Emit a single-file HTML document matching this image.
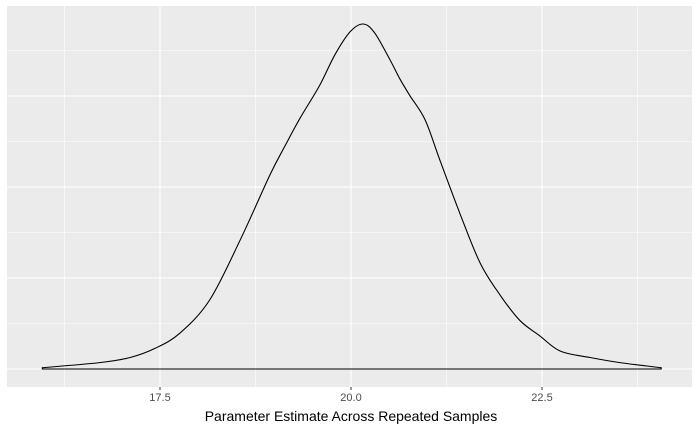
<!DOCTYPE html>
<html><head><meta charset="utf-8"><style>
body{margin:0;background:#fff;}
svg{display:block;font-family:"Liberation Sans",Arial,sans-serif;}
</style></head><body>
<svg id="chart" width="700" height="432"></svg>
<script>
const xVals=[15.96,16.71,17.11,17.43,17.76,18.15,18.55,18.94,19.14,19.33,19.59,19.79,19.99,20.16,20.31,20.51,20.64,20.77,20.97,21.16,21.43,21.69,21.95,22.21,22.47,22.74,23.13,23.52,24.06];
const densVals=[0.001,0.005,0.009,0.016,0.028,0.054,0.101,0.152,0.175,0.196,0.222,0.246,0.264,0.270,0.263,0.242,0.227,0.214,0.195,0.164,0.121,0.083,0.058,0.038,0.026,0.014,0.009,0.005,0.001];
const xTicks=[17.5,20.0,22.5];
const xTickLabels=["17.5","20.0","22.5"];
const xMinor=[16.25,18.75,21.25,23.75];

const NS="http://www.w3.org/2000/svg";
const svg=document.getElementById('chart');
const L=7,R=692,T=6,B=387;
function sx(v){return 351+(v-20)*76.4;}
function sy(v){return 369-v*(345/0.27);}
function mk(t,a,p){const e=document.createElementNS(NS,t);for(const k in a)e.setAttribute(k,a[k]);(p||svg).appendChild(e);return e;}

const panel=mk('rect',{x:L,y:T,width:R-L,height:B-T,fill:'#ebebeb'});



const grid=mk('g',{});


for(let k=0;k<9;k++){const y=369-k*45.5;if(y<T)break;mk('line',{x1:L,x2:R,y1:y,y2:y,stroke:'#fff','stroke-width':k%2?0.6:1.1},grid);}
xMinor.forEach(v=>mk('line',{x1:sx(v),x2:sx(v),y1:T,y2:B,stroke:'#fff','stroke-width':0.6},grid));
xTicks.forEach(v=>mk('line',{x1:sx(v),x2:sx(v),y1:T,y2:B,stroke:'#fff','stroke-width':1.1},grid));

const pts=xVals.map((x,i)=>[sx(x),sy(densVals[i])]);
let d=`M${pts[0][0]},${pts[0][1]}`;
for(let i=0;i<pts.length-1;i++){
  const p0=pts[Math.max(0,i-1)],p1=pts[i],p2=pts[i+1],p3=pts[Math.min(pts.length-1,i+2)];
  const c1=[p1[0]+(p2[0]-p0[0])/6,p1[1]+(p2[1]-p0[1])/6];
  const c2=[p2[0]-(p3[0]-p1[0])/6,p2[1]-(p3[1]-p1[1])/6];
  d+=` C${c1[0]},${c1[1]} ${c2[0]},${c2[1]} ${p2[0]},${p2[1]}`;
}
d+=` L${sx(xVals[xVals.length-1])},${sy(0)} L${sx(xVals[0])},${sy(0)} Z`;
const curve=mk('path',{d:d,fill:'none',stroke:'#000','stroke-width':1.1});



xTicks.forEach((v,i)=>{
  const t=mk('line',{x1:sx(v),x2:sx(v),y1:B,y2:B+3,stroke:'#333','stroke-width':1});
  
  
  const tx=mk('text',{x:sx(v),y:401,'text-anchor':'middle','font-size':11,fill:'#4d4d4d'});
  tx.textContent=xTickLabels[i];
  
  
});
const title=mk('text',{x:351,y:421,'text-anchor':'middle','font-size':14,fill:'#000'});
title.textContent='Parameter Estimate Across Repeated Samples';


</script>
</body></html>
